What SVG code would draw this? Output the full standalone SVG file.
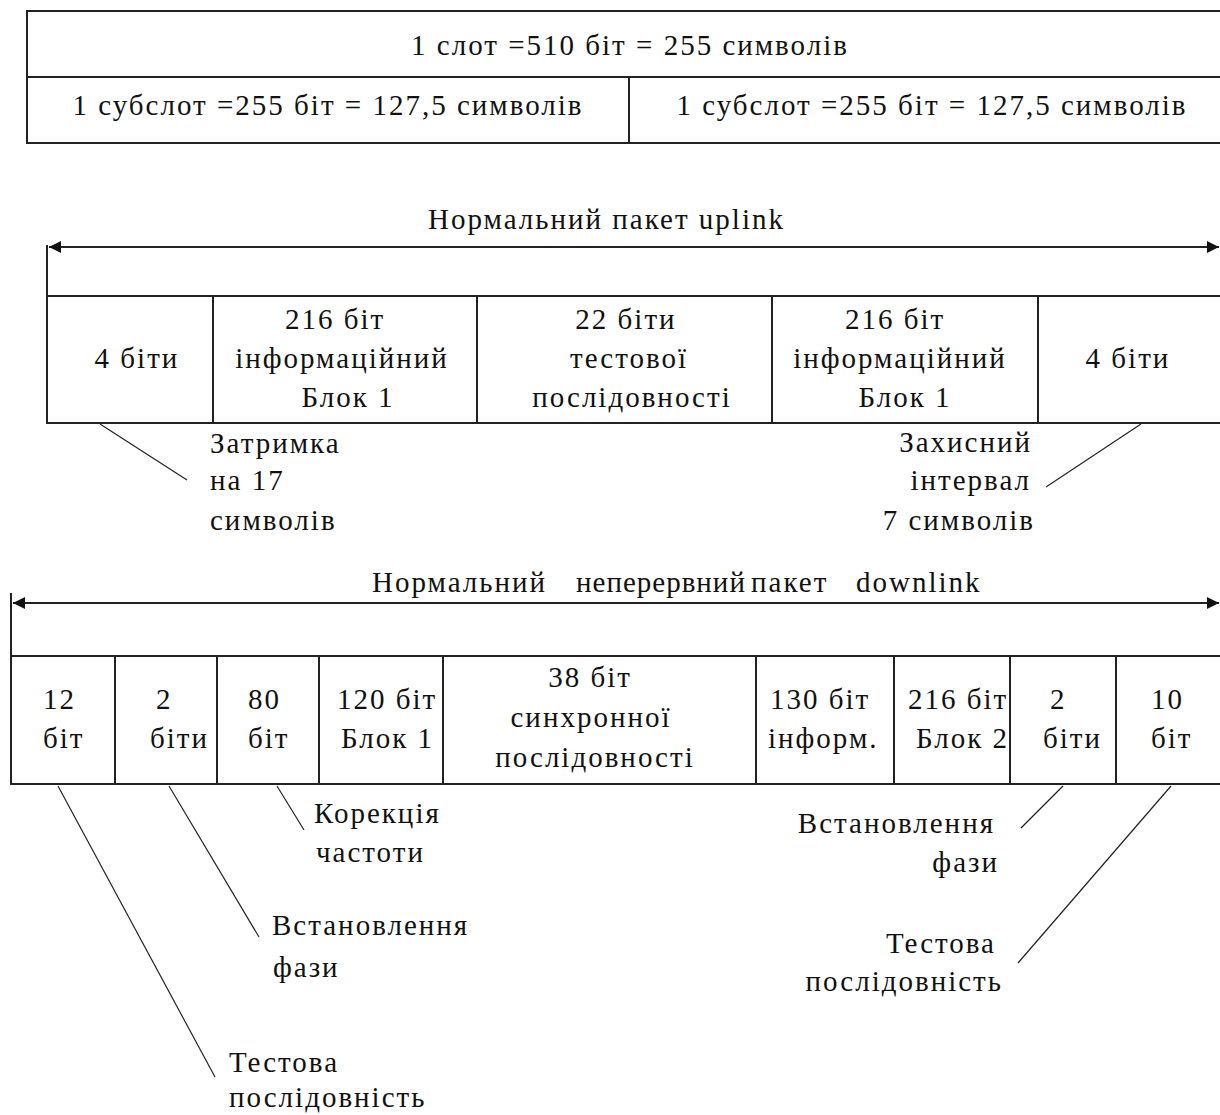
<svg xmlns="http://www.w3.org/2000/svg" width="1220" height="1115" viewBox="0 0 1220 1115">
  <style>
    .t { font-family: "Liberation Serif", "Times New Roman", serif; font-size: 29px; letter-spacing: 2px; fill: #111; }
    .m { text-anchor: middle; }
    .e { text-anchor: end; }
    .cell { fill: #fff; stroke: #222; stroke-width: 2; }
    .rule { stroke: #222; stroke-width: 2; fill: none; }
    .lead { stroke: #222; stroke-width: 1.2; fill: none; }
  </style>
  <defs>
    <marker id="arrow" viewBox="0 0 12 12" refX="12" refY="6" markerWidth="12" markerHeight="12" markerUnits="userSpaceOnUse" orient="auto-start-reverse">
      <path d="M0,0 L12,6 L0,12 z" fill="#111"/>
    </marker>
  </defs>
  <rect width="1220" height="1115" fill="#fff"/>

  <!-- slot / subslot table -->
  <g id="slot">
    <rect class="cell" x="27" y="11" width="1210" height="66"/>
    <text class="t m" x="630" y="55">1 слот =510 біт = 255 символів</text>
  </g>
  <g id="subslot-1">
    <rect class="cell" x="27" y="77" width="602" height="66"/>
    <text class="t m" x="328" y="115">1 субслот =255 біт = 127,5 символів</text>
  </g>
  <g id="subslot-2">
    <rect class="cell" x="629" y="77" width="608" height="66"/>
    <text class="t m" x="932" y="115">1 субслот =255 біт = 127,5 символів</text>
  </g>

  <!-- uplink burst -->
  <g id="uplink-title">
    <text class="t" x="428" y="229">Нормальний пакет uplink</text>
  </g>
  <g id="up-tail-1">
    <rect class="cell" x="47" y="296" width="166" height="127"/>
    <text class="t m" x="137" y="368">4 біти</text>
  </g>
  <g id="up-info-1">
    <rect class="cell" x="213" y="296" width="264" height="127"/>
    <text class="t m" x="335" y="329">216 біт</text>
    <text class="t m" x="342" y="368">інформаційний</text>
    <text class="t m" x="348" y="407">Блок 1</text>
  </g>
  <g id="up-training">
    <rect class="cell" x="477" y="296" width="295" height="127"/>
    <text class="t m" x="626" y="329">22 біти</text>
    <text class="t m" x="629" y="368">тестової</text>
    <text class="t m" x="632" y="407">послідовності</text>
  </g>
  <g id="up-info-2">
    <rect class="cell" x="772" y="296" width="266" height="127"/>
    <text class="t m" x="895" y="329">216 біт</text>
    <text class="t m" x="900" y="368">інформаційний</text>
    <text class="t m" x="905" y="407">Блок 1</text>
  </g>
  <g id="up-tail-2">
    <rect class="cell" x="1038" y="296" width="200" height="127"/>
    <text class="t m" x="1128" y="368">4 біти</text>
  </g>
  <g id="up-delay-note">
    <text class="t" x="210" y="453">Затримка</text>
    <text class="t" x="210" y="490">на 17</text>
    <text class="t" x="210" y="530">символів</text>
  </g>
  <g id="up-guard-note">
    <text class="t e" x="1032" y="452">Захисний</text>
    <text class="t e" x="1031" y="490">інтервал</text>
    <text class="t e" x="1035" y="530">7 символів</text>
  </g>

  <!-- downlink burst -->
  <g id="downlink-title">
    <text class="t"><tspan x="372" y="592">Нормальний</tspan><tspan x="576" y="592" letter-spacing="1">неперервний</tspan><tspan x="751" y="592">пакет</tspan><tspan x="856" y="592">downlink</tspan></text>
  </g>
  <g id="dn-tail-1">
    <rect class="cell" x="11" y="656" width="104" height="128"/>
    <text class="t" x="43" y="709">12</text>
    <text class="t" x="43" y="748">біт</text>
  </g>
  <g id="dn-phase-1">
    <rect class="cell" x="115" y="656" width="102" height="128"/>
    <text class="t" x="156" y="709">2</text>
    <text class="t" x="150" y="748">біти</text>
  </g>
  <g id="dn-freq">
    <rect class="cell" x="217" y="656" width="102" height="128"/>
    <text class="t" x="248" y="709">80</text>
    <text class="t" x="248" y="748">біт</text>
  </g>
  <g id="dn-block-1">
    <rect class="cell" x="319" y="656" width="124" height="128"/>
    <text class="t" x="337" y="709">120 біт</text>
    <text class="t" x="341" y="748">Блок 1</text>
  </g>
  <g id="dn-sync">
    <rect class="cell" x="443" y="656" width="313" height="128"/>
    <text class="t m" x="590" y="687">38 біт</text>
    <text class="t m" x="591" y="727">синхронної</text>
    <text class="t m" x="595" y="767">послідовності</text>
  </g>
  <g id="dn-info">
    <rect class="cell" x="756" y="656" width="138" height="128"/>
    <text class="t" x="770" y="709">130 біт</text>
    <text class="t" x="768" y="748">інформ.</text>
  </g>
  <g id="dn-block-2">
    <rect class="cell" x="894" y="656" width="116" height="128"/>
    <text class="t" x="908" y="709">216 біт</text>
    <text class="t" x="916" y="748">Блок 2</text>
  </g>
  <g id="dn-phase-2">
    <rect class="cell" x="1010" y="656" width="106" height="128"/>
    <text class="t" x="1050" y="709">2</text>
    <text class="t" x="1043" y="748">біти</text>
  </g>
  <g id="dn-tail-2">
    <rect class="cell" x="1116" y="656" width="122" height="128"/>
    <text class="t" x="1151" y="709">10</text>
    <text class="t" x="1151" y="748">біт</text>
  </g>
  <g id="dn-freq-note">
    <text class="t" x="314" y="823">Корекція</text>
    <text class="t" x="316" y="862">частоти</text>
  </g>
  <g id="dn-phase-note-1">
    <text class="t" x="272" y="935">Встановлення</text>
    <text class="t" x="273" y="977">фази</text>
  </g>
  <g id="dn-training-note-1">
    <text class="t" x="229" y="1072">Тестова</text>
    <text class="t" x="229" y="1107">послідовність</text>
  </g>
  <g id="dn-phase-note-2">
    <text class="t e" x="995" y="833">Встановлення</text>
    <text class="t e" x="999" y="872">фази</text>
  </g>
  <g id="dn-training-note-2">
    <text class="t e" x="996" y="953">Тестова</text>
    <text class="t e" x="1003" y="991">послідовність</text>
  </g>

  <!-- span arrows and leader lines -->
  <g id="connectors">
    <line class="rule" x1="47" y1="245" x2="47" y2="296"/>
    <line class="rule" x1="49" y1="247" x2="1219" y2="247" marker-start="url(#arrow)" marker-end="url(#arrow)"/>
    <line class="rule" x1="11" y1="593" x2="11" y2="656"/>
    <line class="rule" x1="13" y1="603" x2="1219" y2="603" marker-start="url(#arrow)" marker-end="url(#arrow)"/>

    <line class="lead" x1="100" y1="424" x2="187" y2="480"/>
    <line class="lead" x1="1141" y1="424" x2="1046" y2="487"/>

    <line class="lead" x1="58" y1="786" x2="215" y2="1077"/>
    <line class="lead" x1="169" y1="786" x2="259" y2="937"/>
    <line class="lead" x1="277" y1="786" x2="304" y2="830"/>
    <line class="lead" x1="1063" y1="786" x2="1021" y2="828"/>
    <line class="lead" x1="1171" y1="786" x2="1018" y2="963"/>
  </g>
</svg>
